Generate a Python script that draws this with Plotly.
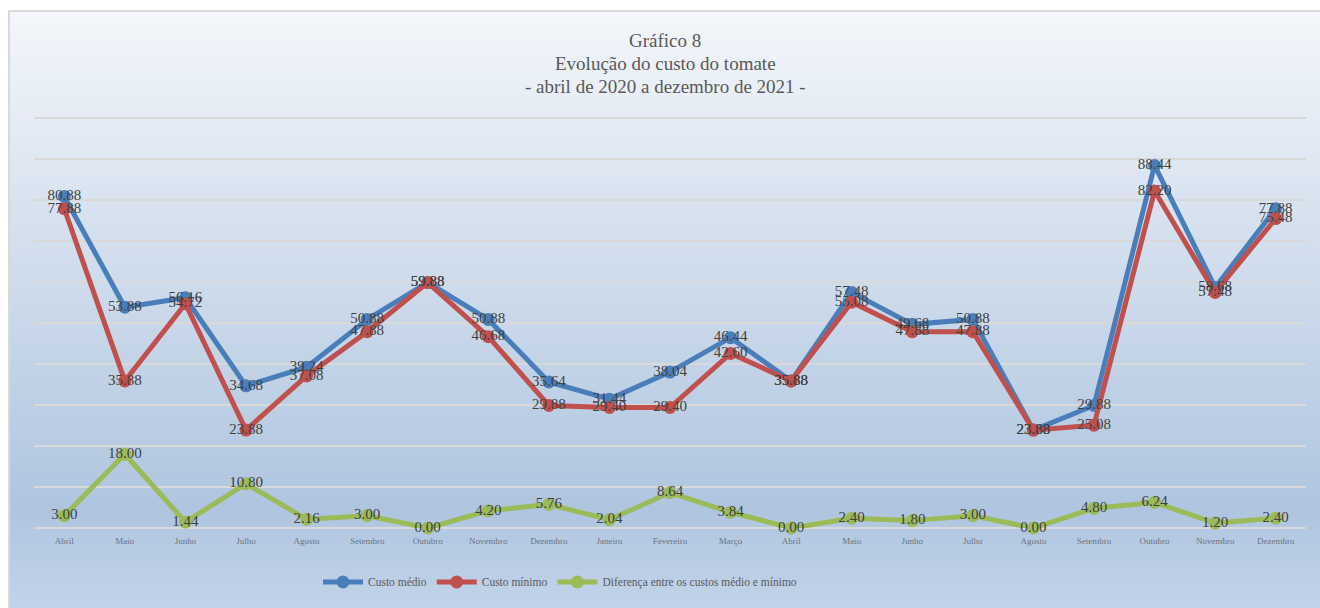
import base64
import plotly.graph_objects as go

meses = ["Abril", "Maio", "Junho", "Julho", "Agosto", "Setembro", "Outubro",
         "Novembro", "Dezembro", "Janeiro", "Fevereiro", "Março", "Abril",
         "Maio", "Junho", "Julho", "Agosto", "Setembro", "Outubro",
         "Novembro", "Dezembro"]
custo_medio = [80.88, 53.88, 56.16, 34.68, 39.24, 50.88, 59.88, 50.88, 35.64,
               31.44, 38.04, 46.44, 35.88, 57.48, 49.68, 50.88, 23.88, 29.88,
               88.44, 58.68, 77.88]
custo_minimo = [77.88, 35.88, 54.72, 23.88, 37.08, 47.88, 59.88, 46.68, 29.88,
                29.40, 29.40, 42.60, 35.88, 55.08, 47.88, 47.88, 23.88, 25.08,
                82.20, 57.48, 75.48]
diferenca = [3.00, 18.00, 1.44, 10.80, 2.16, 3.00, 0.00, 4.20, 5.76, 2.04,
             8.64, 3.84, 0.00, 2.40, 1.80, 3.00, 0.00, 4.80, 6.24, 1.20, 2.40]
titulo = ["Gráfico 8", "Evolução do custo do tomate",
          "- abril de 2020 a dezembro de 2021 -"]

series = [
    ("Custo médio", custo_medio, "#4a7ebb"),
    ("Custo mínimo", custo_minimo, "#c0504d"),
    ("Diferença entre os custos médio e mínimo", diferenca, "#9bbb59"),
]

W, H = 1320, 608
YMAX = 101
L, R, B = 34, 14, 80
PX_PER_UNIT = 4.1
PH = PX_PER_UNIT * YMAX
T = H - B - PH
PW = W - L - R
FONT = "Liberation Serif"

x_idx = list(range(len(meses)))

fig = go.Figure()
for name, vals, color in series:
    fig.add_trace(go.Scatter(
        x=x_idx, y=vals, name=name, mode="lines+markers",
        line=dict(color=color, width=5),
        marker=dict(color=color, size=13),
        cliponaxis=False,
    ))
for name, vals, color in series:
    fig.add_trace(go.Scatter(
        x=x_idx, y=vals, mode="text", showlegend=False, hoverinfo="skip",
        text=[f"{v:.2f}" for v in vals], textposition="middle center",
        textfont=dict(family=FONT, size=15, color="#404040"),
        cliponaxis=False,
    ))

svg = f'''<svg xmlns="http://www.w3.org/2000/svg" width="{W}" height="{H}" viewBox="0 0 {W} {H}" preserveAspectRatio="none">
<defs><linearGradient id="g" x1="0" y1="0" x2="0" y2="1">
<stop offset="0" stop-color="#f4f7fb"/>
<stop offset="0.3" stop-color="#dae4f0"/>
<stop offset="0.82" stop-color="#afc5df"/>
<stop offset="1" stop-color="#c4d5ea"/>
</linearGradient></defs>
<rect x="0" y="0" width="{W}" height="{H}" fill="#ffffff"/>
<rect x="9" y="11" width="{W}" height="{H}" fill="url(#g)" stroke="#d9d9d9" stroke-width="2"/>
</svg>'''
src = "data:image/svg+xml;base64," + base64.b64encode(svg.encode()).decode()


def px_x(p):
    return (p - L) / PW


def px_y(p):
    return (H - B - p) / PH


fig.add_layout_image(dict(
    source=src, xref="paper", yref="paper",
    x=px_x(0), y=px_y(0), sizex=W / PW, sizey=H / PH,
    xanchor="left", yanchor="top", sizing="stretch", layer="below",
))

for linha, ypx in zip(titulo, [40, 63, 86]):
    fig.add_annotation(
        text=linha, xref="paper", yref="paper", x=px_x(665), y=px_y(ypx),
        xanchor="center", yanchor="middle", showarrow=False,
        font=dict(family=FONT, size=19, color="#595959"),
    )

fig.update_layout(
    width=W, height=H, autosize=False,
    margin=dict(l=L, r=R, t=T, b=B, pad=0),
    paper_bgcolor="rgba(0,0,0,0)", plot_bgcolor="rgba(0,0,0,0)",
    showlegend=True,
    legend=dict(orientation="h", x=px_x(560), xanchor="center",
                y=px_y(582), yanchor="middle",
                font=dict(family=FONT, size=11.5, color="#595959"),
                bgcolor="rgba(0,0,0,0)", itemwidth=40, tracegroupgap=0),
    xaxis=dict(range=[-0.5, len(meses) - 0.5], tickmode="array",
               tickvals=x_idx, ticktext=meses, showgrid=False,
               zeroline=False, showline=False, ticks="",
               ticklabelstandoff=6,
               tickfont=dict(family=FONT, size=9, color="#6a7382")),
    yaxis=dict(range=[0, YMAX], dtick=10, showgrid=True, gridcolor="#d9d9d9",
               gridwidth=2, zeroline=True, zerolinecolor="#d9d9d9",
               zerolinewidth=2, showticklabels=False, ticks=""),
    font=dict(family=FONT),
)

fig.write_html("out.html",
               config={"displayModeBar": False},
               post_script="document.body.style.margin='0';"
                           "document.body.style.padding='0';")
